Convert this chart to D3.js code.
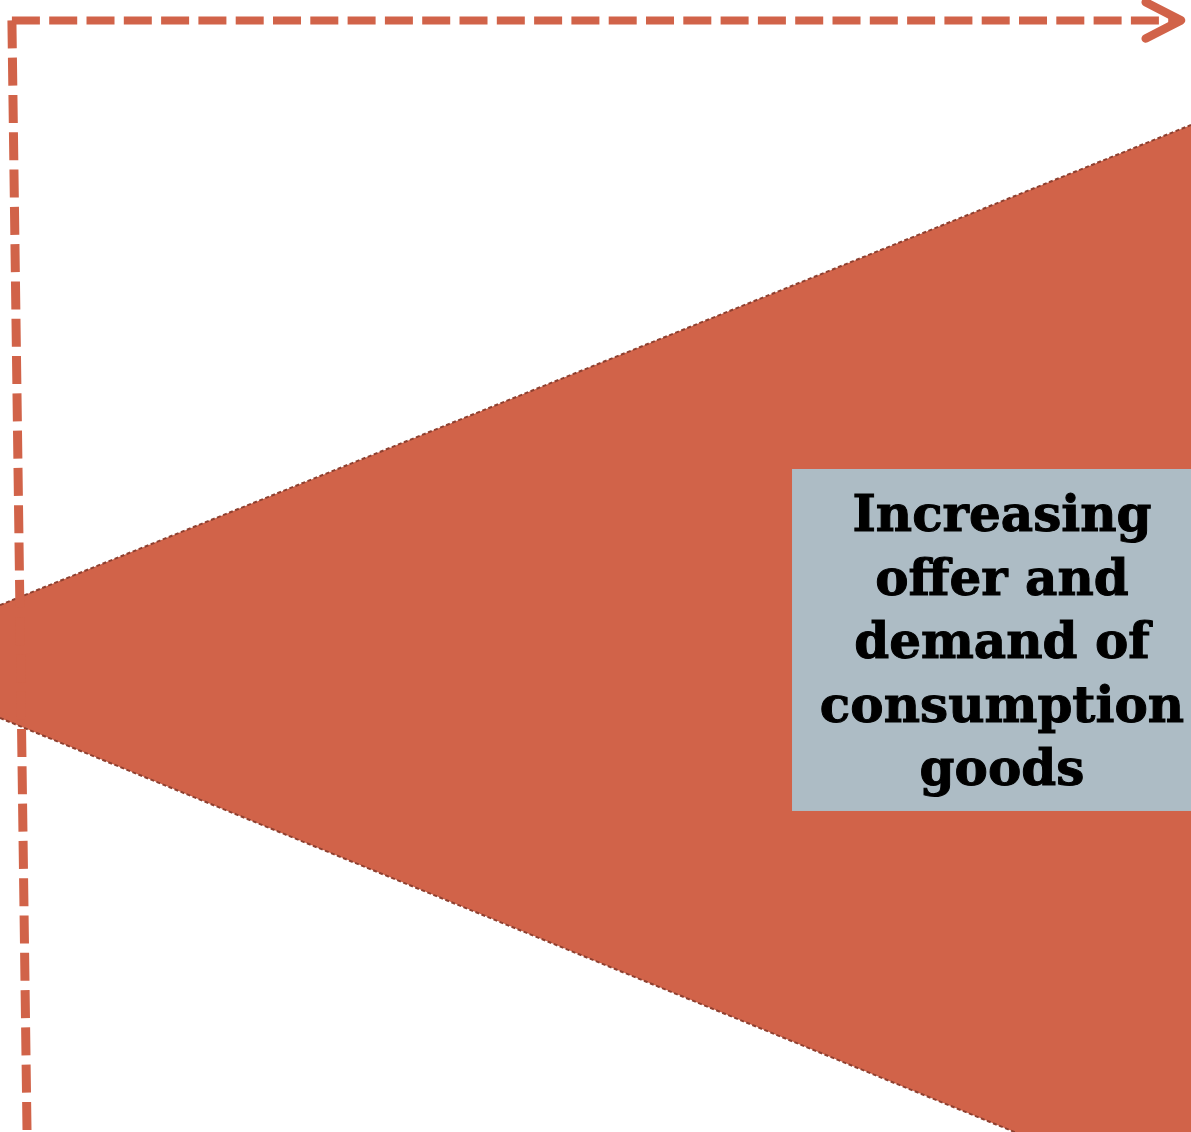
<!doctype html>
<html>
<head>
    <meta charset="UTF-8">
    <title>Consumption goods</title>
    <script src="https://d3js.org/d3.v7.min.js"></script>
    <style>
        body { margin: 0; background: #fff; }
        svg { display: block; }
    </style>
</head>
<body>
    <script>
        var w = 1191;
        var h = 1132;

        // wedge: horizontal stage (0..100) and its upper / lower edge
        var stage = [0, 100];
        var upper = [46.55, 88.96];
        var lower = [36.57, -6.36];

        // dashed axes (same units)
        var vAxisX = [1.0, 2.27];
        var vAxisY = [98.2, 0];
        var hAxisX = [1.0, 99.16];
        var hAxisY = [98.2, 98.2];
        var arrowX = [96.2, 99.16, 96.2];
        var arrowY = [99.8, 98.2, 96.6];

        // label box
        var boxX = [66.5, 100];
        var boxY = [58.57, 28.36];
        var labelLines = ["Increasing", "offer and", "demand of", "consumption", "goods"];

        var orange = "#D16349";

        var x = d3.scaleLinear().domain([0, 100]).range([0, w]);
        var y = d3.scaleLinear().domain([0, 100]).range([h, 0]);

        var svg = d3.select("body")
            .append("svg")
            .attr("width", w)
            .attr("height", h);

        // the wedge
        var pts = stage.map(function (s, i) { return [s, upper[i]]; })
            .concat(stage.slice().reverse().map(function (s, i) { return [s, lower[stage.length - 1 - i]]; }));

        var line = d3.line()
            .x(function (d) { return x(d[0]); })
            .y(function (d) { return y(d[1]); });

        svg.append("path")
            .attr("d", line(pts) + "Z")
            .attr("fill", orange);

        // dashed outline on the two slanted edges
        [upper, lower].forEach(function (edge) {
            svg.append("path")
                .attr("d", line(stage.map(function (s, i) { return [s, edge[i]]; })))
                .attr("fill", "none")
                .attr("stroke", "#8E4030")
                .attr("stroke-width", 2)
                .attr("stroke-dasharray", "4 2.5");
        });

        // dashed axes
        svg.append("path")
            .attr("d", line(vAxisX.map(function (v, i) { return [v, vAxisY[i]]; })))
            .attr("fill", "none")
            .attr("stroke", orange)
            .attr("stroke-width", 9)
            .attr("stroke-dasharray", "28 9.3");

        svg.append("path")
            .attr("d", line(hAxisX.map(function (v, i) { return [v, hAxisY[i]]; })))
            .attr("fill", "none")
            .attr("stroke", orange)
            .attr("stroke-width", 8)
            .attr("stroke-dasharray", "28 9.3");

        svg.append("path")
            .attr("d", line(arrowX.map(function (v, i) { return [v, arrowY[i]]; })))
            .attr("fill", "none")
            .attr("stroke", orange)
            .attr("stroke-width", 8.5)
            .attr("stroke-linecap", "round")
            .attr("stroke-linejoin", "round");

        // label box
        svg.append("rect")
            .attr("x", x(boxX[0]))
            .attr("y", y(boxY[0]))
            .attr("width", x(boxX[1]) - x(boxX[0]))
            .attr("height", y(boxY[1]) - y(boxY[0]))
            .attr("fill", "#ADBCC5");

        svg.selectAll("text.label")
            .data(labelLines)
            .enter()
            .append("text")
            .attr("class", "label")
            .attr("x", 1002)
            .attr("y", function (d, i) { return 531 + 63.5 * i; })
            .attr("text-anchor", "middle")
            .attr("font-family", "'DejaVu Serif', serif")
            .attr("font-weight", "bold")
            .attr("font-size", 50)
            .attr("font-variant-ligatures", "none")
            .attr("fill", "#000")
            .attr("stroke", "#000")
            .attr("stroke-width", 1)
            .text(function (d) { return d; });
    </script>
</body>
</html>
